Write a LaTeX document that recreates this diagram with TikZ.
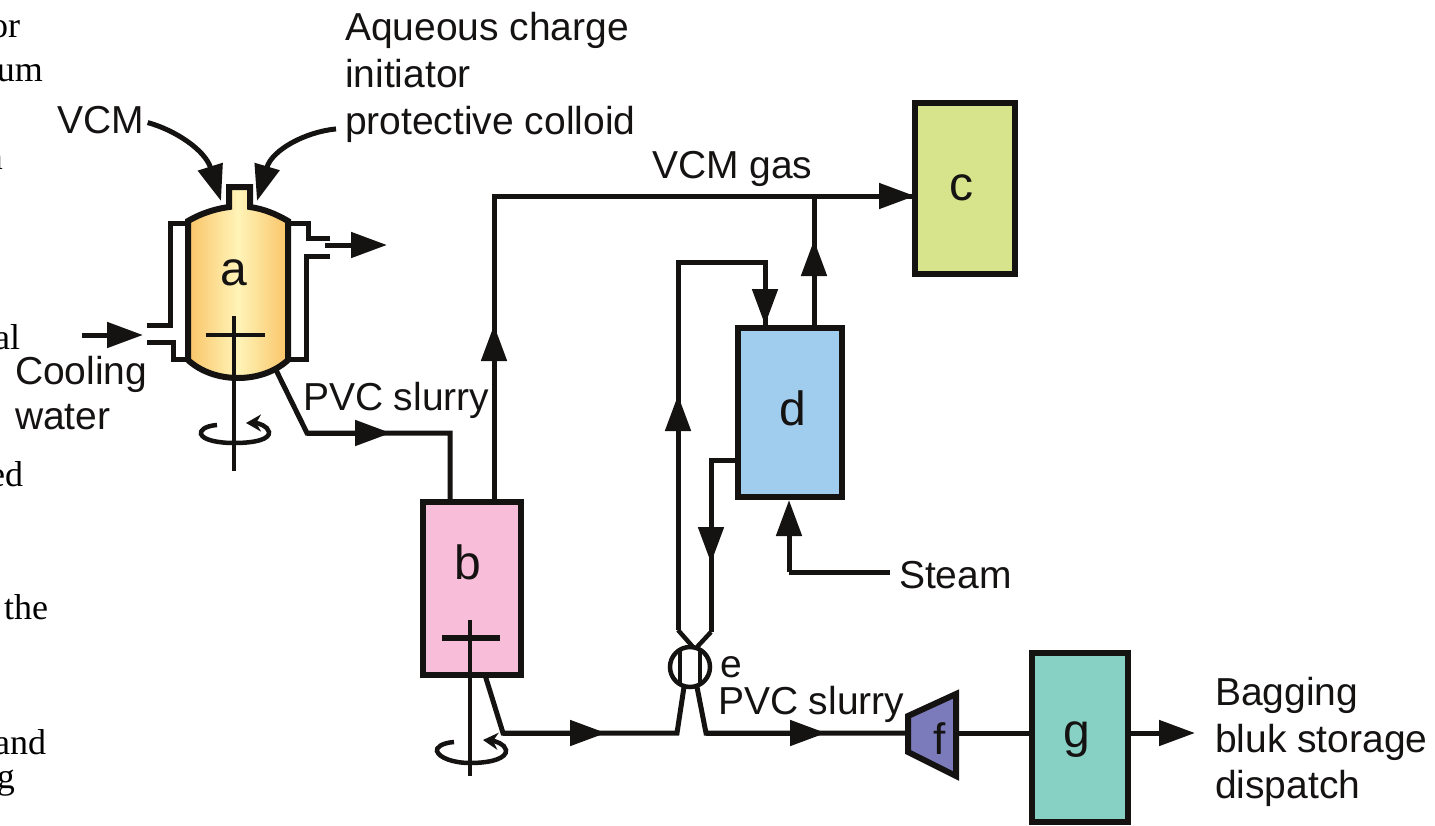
\documentclass[tikz,border=0pt]{standalone}
\usepackage{fontspec}
\setmainfont{Liberation Serif}
\newfontfamily\lsans{Liberation Sans}
\usetikzlibrary{arrows.meta,calc}
\definecolor{ink}{HTML}{151212}
\definecolor{cbox}{HTML}{D7E48B}
\definecolor{dbox}{HTML}{A0CDEE}
\definecolor{bbox}{HTML}{F8BDD8}
\definecolor{gbox}{HTML}{86D0C4}
\definecolor{fbox}{HTML}{7B7BBB}
\definecolor{aedge}{HTML}{F9C468}
\definecolor{amid}{HTML}{FFF4B8}
\tikzset{
  lbl/.style={font=\lsans\fontsize{39}{39}\selectfont,text=ink,anchor=base west,inner sep=0pt,outer sep=0pt},
  letter/.style={font=\lsans\fontsize{48}{48}\selectfont,text=ink,anchor=base,inner sep=0pt,outer sep=0pt},
  frag/.style={font=\fontsize{36}{36}\selectfont,text=black,anchor=base east,inner sep=0pt,outer sep=0pt},
  unit/.style={draw=ink,line width=6pt,rectangle,inner sep=0pt,outer sep=0pt},
  pipe/.style={draw=ink,line width=5pt,line join=miter},
  shaft/.style={draw=ink,line width=4.5pt},
  flow/.style={pipe,-{Triangle[length=36pt,width=25pt]}},
  spin/.style={draw=ink,line width=4.5pt,-{Stealth[length=15pt,width=17pt]}}
}
\begin{document}
\begin{tikzpicture}[x=1pt,y=-1pt]
\useasboundingbox (0,0) rectangle (1435,825);
% clipped text at the left edge
\node[frag] (f1) at (20,37) {or};
\node[frag] (f2) at (43,81) {um};
\node[frag] (f3) at (3,169) {n};
\node[frag] (f4) at (20,349) {al};
\node[frag] (f5) at (23,486) {ed};
\node[frag] (f6) at (48,619) {the};
\node[frag] (f7) at (46,754) {and};
\node[frag] (f8) at (15,788) {g};
% unit boxes
\node[unit,fill=cbox,minimum width=100pt,minimum height=171pt] (c) at (965,188.5) {};
\node[unit,fill=dbox,minimum width=104pt,minimum height=169pt] (d) at (790,412.5) {};
\node[unit,fill=bbox,minimum width=98pt,minimum height=173pt] (b) at (472,588.5) {};
\node[unit,fill=gbox,minimum width=96pt,minimum height=169pt] (g) at (1080,737.5) {};
% reactor jacket
\draw[pipe] (188,223) -- (170,223) -- (170,325) -- (147,325);
\draw[pipe] (147,342) -- (173,342) -- (173,359) -- (188,359);
\draw[pipe] (288,223) -- (308,223) -- (308,238) -- (330,238);
\draw[pipe] (330,256) -- (306,256) -- (306,359) -- (288,359);
% reactor vessel
\path[draw=ink,line width=6pt,left color=aedge,right color=aedge,middle color=amid]
  (188,221) .. controls (200,214) and (214,209) .. (229,207) -- (229,187) -- (250,187) -- (250,207)
  .. controls (264,209) and (276,214) .. (288,221) -- (288,360)
  .. controls (262,384) and (214,384) .. (188,360) -- cycle;
\node[letter] (a) at (234,285) {a};
% agitator a
\coordinate (as1) at (234,316); \coordinate (as2) at (234,471);
\coordinate (ab1) at (206,335); \coordinate (ab2) at (265,335);
\draw[shaft] (as1) -- (as2);
\draw[shaft] (ab1) -- (ab2);
\coordinate (ar1) at (217,425); \coordinate (ar2) at (246,423);
\draw[spin] (ar1) .. controls (204,426) and (200,431) .. (201,434) .. controls (203,440) and (218,443) .. (234,443)
  .. controls (256,443) and (270,439) .. (269,432) .. controls (268,426) and (258,423) .. (ar2);
% feeds to a
\node[lbl] (vcm) at (57,133) {VCM};
\node[lbl] (aq1) at (345,40) {Aqueous charge};
\node[lbl] (aq2) at (345,87) {initiator};
\node[lbl] (aq3) at (345,134) {protective colloid};
\coordinate (ain1) at (221,201); \coordinate (ain2) at (257,201);
\draw[flow] (vcm.east)++(4,3) .. controls (175,130) and (205,150) .. (ain1);
\draw[flow] (aq3.west)++(-9,5) .. controls (305,132) and (272,150) .. (ain2);
% cooling water
\coordinate (cw1) at (82,335); \coordinate (cw2) at (143,335);
\coordinate (cw3) at (325,245); \coordinate (cw4) at (387,245);
\draw[flow] (cw1) -- (cw2);
\draw[flow] (cw3) -- (cw4);
\node[lbl] (cool1) at (15,384) {Cooling};
\node[lbl] (cool2) at (15,429) {water};
% a to b
\coordinate (ao) at (276,370);
\coordinate (ab) at (307,433);
\coordinate (abm) at (391,433);
\coordinate (abt) at (450,433);
\draw[pipe] (ao) -- (ab) -- (abt) -- (b.north -| abt);
\draw[flow] (ab) -- (abm);
\node[lbl] (pvc1) at (303,410) {PVC slurry};
% b to c
\coordinate (bc) at (494,196);
\coordinate (bcm) at (494,325);
\coordinate (dc) at (814,196);
\coordinate (dcm) at (814,240);
\draw[pipe] (b.north -| bc) -- (bc) -- (c.west |- bc);
\draw[flow] (b.north -| bc) -- (bcm);
\draw[flow] (dc -| 840,196) -- (c.west |- bc);
\draw[pipe] (d.north -| dc) -- (dc);
\draw[flow] (d.north -| dc) -- (dcm);
\node[lbl] (gas) at (652,178) {VCM gas};
\node[letter] (lc) at (961,200) {c};
\node[letter] (ld) at (793,425) {d};
\node[letter] (lb) at (468,579) {b};
\node[letter] (lg) at (1077,747) {g};
% loop through e
\coordinate (e) at (690,667);
\coordinate (l1) at (678,630);
\coordinate (l2) at (678,262);
\coordinate (l3) at (765,262);
\coordinate (l1m) at (678,395);
\draw[pipe] (l1) -- (l2) -- (l3) -- (l3 |- d.north);
\draw[flow] (l3) -- ($(l3 |- d.north)+(0,-3)$);
\draw[flow] (l1) -- (l1m);
\coordinate (r1) at (738,460);
\coordinate (r2) at (711,460);
\coordinate (r3) at (711,632);
\coordinate (r2m) at (711,563);
\draw[pipe] (r1) -- (r2) -- (r3);
\draw[flow] (r2) -- (r2m);
% steam
\node[lbl] (steam) at (899,588) {Steam};
\coordinate (st1) at (890,572);
\coordinate (st2) at (789,572);
\draw[pipe] (st1) -- (st2);
\draw[flow] (st2) -- ($(st2 |- d.south)+(0,3)$);
% e valve
\draw[shaft] (e) circle (20pt);
\draw[shaft] (680,649) -- (680,686);
\draw[shaft] (700,649) -- (700,686);
\draw[shaft] (l1) -- (693,647);
\draw[shaft] (r3) -- (697,647);
\node[lbl] (le) at (720,677) {e};
% agitator b
\coordinate (bs1) at (470,620); \coordinate (bs2) at (470,776);
\coordinate (bb1) at (442,638); \coordinate (bb2) at (500,638);
\draw[shaft] (bs1) -- (bs2);
\draw[line width=5.5pt,draw=ink] (bb1) -- (bb2);
\coordinate (br1) at (454,742); \coordinate (br2) at (483,740);
\draw[spin] (br1) .. controls (441,743) and (436,748) .. (437,751) .. controls (439,758) and (454,763) .. (470,763)
  .. controls (492,763) and (507,758) .. (506,750) .. controls (505,744) and (495,741) .. (br2);
% b to e and on to f
\coordinate (bo) at (485,675);
\coordinate (bo2) at (503,733);
\coordinate (bm1) at (606,733);
\coordinate (eli) at (677,733);
\coordinate (elo) at (706,733);
\coordinate (em2) at (826,733);
\draw[pipe] (bo) -- (bo2) -- (eli) -- (684,687);
\draw[flow] (bo2) -- (bm1);
\draw[pipe] (697,687) -- (elo) -- (908,733);
\draw[flow] (elo) -- (em2);
\node[lbl] (pvc2) at (718,714) {PVC slurry};
% f
\path[draw=ink,fill=fbox,line width=6pt,line join=miter] (908,716) -- (956,694) -- (956,776) -- (908,752) -- cycle;
\node[letter,font=\lsans\fontsize{44}{44}\selectfont] (lf) at (940,754) {f};
\coordinate (fo) at (958,733);
\draw[pipe] (fo) -- (g.west |- fo);
% g out
\coordinate (go) at (1195,733);
\draw[flow] (g.east |- go) -- (go);
\node[lbl] (bag1) at (1215,705) {Bagging};
\node[lbl] (bag2) at (1215,752) {bluk storage};
\node[lbl] (bag3) at (1215,798) {dispatch};
\end{tikzpicture}
\end{document}
